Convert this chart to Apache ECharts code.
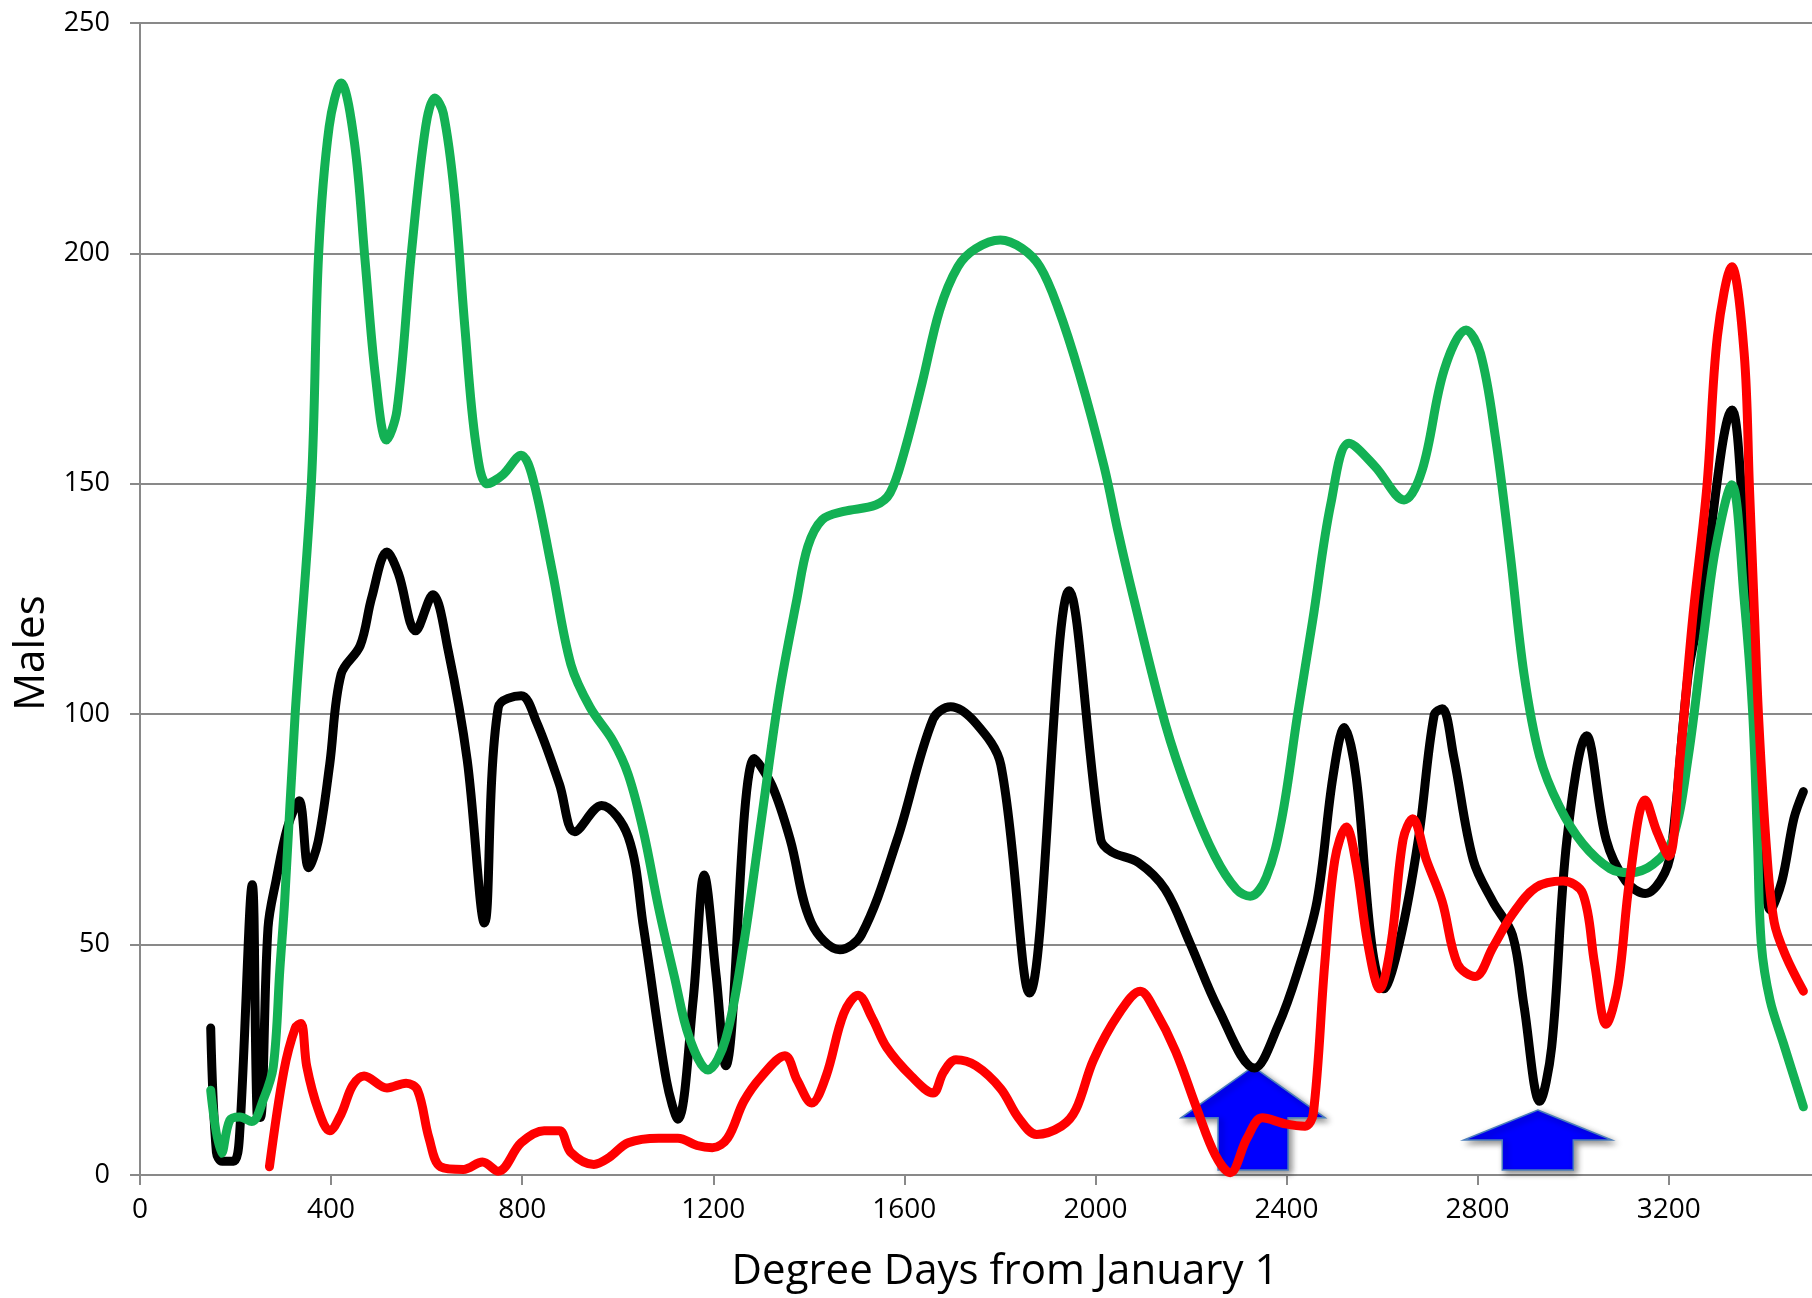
<!DOCTYPE html>
<html><head><meta charset="utf-8">
<script src="https://cdn.jsdelivr.net/npm/echarts@6/dist/echarts.min.js"></script>
<style>html,body{margin:0;padding:0;background:#fff}#c{width:1812px;height:1298px}</style>
</head><body><div id="c"></div>
<script>
// ---- data (degree days, males) ----
const blackSeries = [
[148,31.9],[160,4.9],[172,3.0],[196,3.0],[208,8],[235,63],[245,13.2],[252,12.5],[268,53.7],[285,64],
[309,75.5],[333,81.2],[353,66.7],[373,72.4],[397,89],[421,108.7],[461,114.9],[485,125.3],[517,135.2],[541,130.5],
[577,118.1],[613,125.9],[645,113.9],[685,90],[721,54.7],[750,101.5],[798,104],[830,98.3],[878,84.8],[910,74.5],
[966,80.2],[1022,73.4],[1054,53.7],[1102,20.5],[1126,12.1],[1158,38.1],[1181,65.1],[1206,43.3],[1226,23.7],[1286,90.4],
[1323,84.5],[1361,72.8],[1405,54.8],[1465,48.9],[1510,52.1],[1585,72.8],[1660,98.9],[1697,101.6],[1750,98],[1802,89],
[1862,39.5],[1945,126.8],[2011,72.8],[2034,70.1],[2090,67.8],[2146,62],[2198,50.3],[2258,35.9],[2333,23.2],[2382,32.3],
[2423,44],[2464,59.5],[2497,86.3],[2521,97.1],[2546,86.3],[2578,50.3],[2603,40.4],[2636,50.3],[2676,72.8],[2709,99.8],
[2726,101.2],[2750,90.8],[2791,68.3],[2832,59.3],[2873,52.1],[2897,36.8],[2930,16],[2955,27.7],[2987,72.8],[3028,95.3],
[3069,72.8],[3110,63.8],[3151,61.1],[3192,65.6],[3208,72.8],[3241,108.8],[3265,122],[3333,166],[3356,142.2],[3396,72.8],
[3413,57.5],[3437,63.8],[3462,77.3],[3482,83.2]
];
const greenSeries = [
[148,18.4],[171,4.7],[188,11.9],[209,12.6],[234,11.6],[258,16.3],[279,23.5],[293,45],[303,59.7],[325,100.4],
[359,150.8],[374,200],[396,227.5],[421,237],[449,224],[471,198.6],[493,173.2],[516,159.5],[538,166],[568,200],
[598,227.5],[617,233.7],[635,230.4],[658,213],[680,184],[703,158.7],[727,150],[760,152],[798,156.2],[822,151.3],
[862,131.6],[902,110.8],[942,101.5],[990,94.2],[1022,86.9],[1054,74.5],[1086,57.8],[1118,43.3],[1150,29.8],[1189,22.8],
[1226,29.5],[1264,50.3],[1301,77.3],[1338,104.3],[1375,124.9],[1398,136.4],[1428,142.2],[1473,144],[1540,145.4],[1570,148],
[1599,156.6],[1637,171.8],[1674,187.7],[1712,197.1],[1749,201],[1801,202.9],[1846,201.1],[1884,197.1],[1921,188.4],[1966,174],
[2018,153.8],[2048,139.3],[2078,126],[2146,98],[2198,81.8],[2250,69.2],[2295,62],[2324,60.5],[2358,64.7],[2390,77.3],
[2423,99.8],[2455,120.5],[2493,145.8],[2531,158.8],[2585,153.8],[2646,146.5],[2684,153],[2730,174.7],[2776,183.4],[2806,178.3],
[2837,160.3],[2868,135],[2897,108.8],[2930,90.8],[2971,80],[3020,71.9],[3077,66.5],[3118,65.6],[3167,67.4],[3208,72.8],
[3241,90.8],[3274,117.8],[3298,135.9],[3332,149.8],[3358,125],[3376,100],[3386,72],[3394,50],[3412,38],[3440,28.6],
[3482,14.8]
];
const redSeries = [
[271,1.8],[301,22.5],[325,31.9],[337,32.9],[349,23.6],[373,14.2],[397,9.6],[421,13.2],[445,19.4],[469,21.5],
[517,18.9],[557,19.9],[581,18.4],[605,8],[629,1.8],[677,1.2],[717,2.8],[750,0.8],[798,7],[846,9.6],
[878,9.6],[902,4.9],[950,2.3],[982,3.8],[1022,7],[1086,8],[1126,8],[1166,6.4],[1198,5.9],[1230,8],
[1264,16],[1301,21.4],[1350,25.9],[1376,20.5],[1406,15.6],[1436,21.4],[1473,35],[1503,39],[1533,34],[1563,27.7],
[1615,21.4],[1660,17.8],[1682,22.3],[1708,25],[1750,23.7],[1802,18.7],[1839,12.4],[1877,8.8],[1929,10.6],[1959,14.2],
[1996,25],[2049,35],[2094,39.9],[2124,35.9],[2168,26.8],[2213,14.2],[2251,4.3],[2282,0.5],[2317,7.9],[2349,12.4],
[2398,11.1],[2439,10.6],[2456,13.3],[2480,45.8],[2501,68.3],[2525,75.5],[2546,67.4],[2570,50.3],[2595,40.4],[2619,50.3],
[2644,72.8],[2664,77.3],[2693,68.3],[2726,59.3],[2758,45.8],[2795,43.1],[2832,49.4],[2873,56.6],[2922,62.4],[2979,63.8],
[3020,61.1],[3045,45.8],[3069,32.7],[3094,41.3],[3118,63.8],[3151,81.4],[3175,74.6],[3200,69.2],[3224,90.8],[3250,120.5],
[3280,149.4],[3302,182],[3332,197.1],[3358,178.3],[3369,149.4],[3380,120.5],[3388,99.8],[3405,70.5],[3421,54.8],[3445,47.6],
[3482,39.9]
];
// arrow annotations (data units): x position, tip, neck and base heights
const arrowX = [2330, 2926];
const arrowTipY = [23.5, 14.1];
const arrowNeckY = [12.4, 7.6];
const arrowBaseY = [1.1, 1.1];

const xAxisTitle = 'Degree Days from January 1';
const yAxisTitle = 'Males';

// ---- styles ----
const FONT = '"Open Sans", "Noto Sans", sans-serif';
const GRAY = '#898989';
const arrowHeadHalfPx = [72, 74];
const arrowShaftHalfPx = [35, 35.5];

const chart = echarts.init(document.getElementById('c'), null, {renderer: 'canvas'});
const lineStyleFor = (color) => ({color: color, width: 9, cap: 'round', join: 'round'});
chart.setOption({
  animation: false,
  backgroundColor: '#ffffff',
  grid: {left: 140, right: 0, top: 23, bottom: 123, containLabel: false},
  xAxis: {
    type: 'value', min: 0, max: 3500, interval: 400,
    name: xAxisTitle, nameLocation: 'middle', nameGap: 76,
    nameTextStyle: {fontFamily: FONT, fontSize: 42, color: '#000', padding: [0, 0, 0, 58]},
    axisLine: {show: true, lineStyle: {color: GRAY, width: 2}},
    axisTick: {show: true, inside: false, length: 10, lineStyle: {color: GRAY, width: 2}},
    axisLabel: {fontFamily: FONT, fontSize: 28, color: '#000', margin: 21, showMaxLabel: false,
                formatter: (v) => String(v)},
    splitLine: {show: false}
  },
  yAxis: {
    type: 'value', min: 0, max: 250, interval: 50,
    name: yAxisTitle, nameLocation: 'middle', nameGap: 86,
    nameTextStyle: {fontFamily: FONT, fontSize: 42, color: '#000', padding: [0, 108, 0, 0]},
    axisLine: {show: true, lineStyle: {color: GRAY, width: 2}},
    axisTick: {show: true, inside: false, length: 10, lineStyle: {color: GRAY, width: 2}},
    axisLabel: {fontFamily: FONT, fontSize: 27, color: '#000', margin: 30},
    splitLine: {show: true, lineStyle: {color: GRAY, width: 2}}
  },
  series: [
    {type: 'line', data: blackSeries, smooth: 0.35, showSymbol: false, z: 3, lineStyle: lineStyleFor('#000000')},
    {type: 'line', data: greenSeries, smooth: 0.35, showSymbol: false, z: 4, lineStyle: lineStyleFor('#13B154')},
    {type: 'line', data: redSeries, smooth: 0.35, showSymbol: false, z: 5, lineStyle: lineStyleFor('#FF0000')}
  ]
});

// block arrows placed through the axis scales
const arrowEls = arrowX.map((xv, i) => {
  const tip = chart.convertToPixel({gridIndex: 0}, [xv, arrowTipY[i]]);
  const neck = chart.convertToPixel({gridIndex: 0}, [xv, arrowNeckY[i]]);
  const base = chart.convertToPixel({gridIndex: 0}, [xv, arrowBaseY[i]]);
  const cx = tip[0], hh = arrowHeadHalfPx[i], sh = arrowShaftHalfPx[i];
  return {
    type: 'polygon', z: 1,
    shape: {points: [[cx, tip[1]], [cx + hh, neck[1]], [cx + sh, neck[1]], [cx + sh, base[1]],
                     [cx - sh, base[1]], [cx - sh, neck[1]], [cx - hh, neck[1]]]},
    style: {fill: '#0000FF', stroke: '#4A7EBB', lineWidth: 1.5,
            shadowBlur: 6, shadowColor: 'rgba(0,0,0,0.45)', shadowOffsetX: 3, shadowOffsetY: 3}
  };
});
chart.setOption({graphic: {elements: arrowEls}});
</script>
</body></html>
